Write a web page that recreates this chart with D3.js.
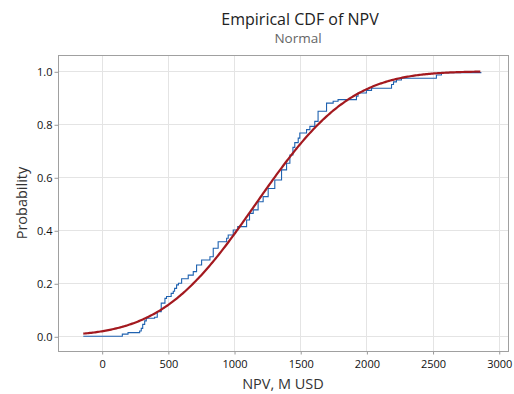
<!DOCTYPE html>
<html>
<head>
<meta charset="utf-8">
<script src="https://cdn.jsdelivr.net/npm/d3@7"></script>
<style>
  body { margin: 0; background: #fff; }
  svg { display: block; font-family: "Open Sans", "Noto Sans", sans-serif; }
</style>
</head>
<body>
<svg width="514" height="394"></svg>
<script>
// empirical CDF steps: x where each step happens, level after it
const npvSteps = [-139, 156, 199, 287, 299, 310, 325, 337, 400, 420, 450, 478, 490, 525, 541, 551,
  566, 580, 604, 654, 692, 717, 755, 818, 843, 880, 944, 956, 994, 1028, 1095, 1117, 1145,
  1182, 1220, 1258, 1308, 1359, 1397, 1422, 1445, 1459, 1485, 1497, 1548, 1573, 1610, 1635,
  1699, 1749, 1786, 1925, 1937, 2000, 2039, 2190, 2205, 2227, 2265, 2529, 2567, 2869];
const probSteps = [0, 0.008, 0.014, 0.020, 0.030, 0.045, 0.058, 0.068, 0.072, 0.093, 0.125, 0.143,
  0.150, 0.162, 0.170, 0.181, 0.194, 0.200, 0.217, 0.231, 0.244, 0.269, 0.288, 0.300, 0.332,
  0.357, 0.370, 0.382, 0.401, 0.414, 0.439, 0.464, 0.477, 0.508, 0.527, 0.558, 0.590, 0.628,
  0.653, 0.684, 0.713, 0.731, 0.748, 0.767, 0.780, 0.792, 0.811, 0.849, 0.880, 0.887, 0.893,
  0.906, 0.918, 0.928, 0.936, 0.950, 0.960, 0.967, 0.974, 0.986, 0.995, 0.995];

// fitted normal
const fitMean = 1165;
const fitSd = 560;

const xTicks = [0, 500, 1000, 1500, 2000, 2500, 3000];
const yTicks = [0, 0.2, 0.4, 0.6, 0.8, 1.0];

const svg = d3.select("svg");
const plotL = 58, plotR = 508, plotT = 55, plotB = 351;

const x = d3.scaleLinear().domain([-330, 3070]).range([plotL, plotR]);
const y = d3.scaleLinear().domain([-0.0555, 1.0615]).range([plotB, plotT]);

// grid
svg.append("g")
    .selectAll("line")
    .data(xTicks)
    .join("line")
    .attr("x1", d => Math.round(x(d)) + 0.5)
    .attr("x2", d => Math.round(x(d)) + 0.5)
    .attr("y1", plotT)
    .attr("y2", plotB)
    .attr("stroke", "#e4e4e4");

svg.append("g")
    .selectAll("line")
    .data(yTicks)
    .join("line")
    .attr("x1", plotL)
    .attr("x2", plotR)
    .attr("y1", d => Math.round(y(d)) + 0.5)
    .attr("y2", d => Math.round(y(d)) + 0.5)
    .attr("stroke", "#e4e4e4");

// axes
const xAxis = svg.append("g")
    .attr("transform", `translate(0.5,${plotB + 0.5})`)
    .call(d3.axisBottom(x).tickValues(xTicks).tickSize(3).tickPadding(6).tickFormat(d3.format("d")));

const yAxis = svg.append("g")
    .attr("transform", `translate(${plotL + 0.5},0.5)`)
    .call(d3.axisLeft(y).tickValues(yTicks).tickSize(4).tickPadding(2).tickFormat(d3.format(".1f")));

[xAxis, yAxis].forEach(g => {
    g.select(".domain").remove();
    g.selectAll(".tick line").attr("stroke", "#999");
    g.selectAll(".tick text")
        .attr("fill", "#111")
        .style("font-size", "11px")
        .style("font-family", "\"Open Sans\", sans-serif");
});

// data
const ecdf = npvSteps.map((v, i) => [v, probSteps[i]]);
svg.append("path")
    .datum(ecdf)
    .attr("fill", "none")
    .attr("stroke", "#1f62b0")
    .attr("stroke-width", 1.1)
    .attr("d", d3.line().x(d => x(d[0])).y(d => y(d[1])).curve(d3.curveStepAfter));

const normalCdf = z => {
    // Abramowitz-Stegun erf approximation
    const t = 1 / (1 + 0.3275911 * Math.abs(z) / Math.SQRT2);
    const e = 1 - (((((1.061405429 * t - 1.453152027) * t) + 1.421413741) * t - 0.284496736) * t + 0.254829592) * t * Math.exp(-z * z / 2);
    return z >= 0 ? (1 + e) / 2 : (1 - e) / 2;
};
const fitPts = d3.range(npvSteps[0], npvSteps[npvSteps.length - 1] + 1, 10)
    .map(v => [v, normalCdf((v - fitMean) / fitSd)]);
svg.append("path")
    .datum(fitPts)
    .attr("fill", "none")
    .attr("stroke", "#a3191f")
    .attr("stroke-width", 2.2)
    .attr("d", d3.line().x(d => x(d[0])).y(d => y(d[1])));

// frame
svg.append("rect")
    .attr("x", plotL + 0.5)
    .attr("y", plotT + 0.5)
    .attr("width", plotR - plotL)
    .attr("height", plotB - plotT)
    .attr("fill", "none")
    .attr("stroke", "#a0a0a0");

// titles
svg.append("text")
    .attr("x", 300).attr("y", 25)
    .attr("text-anchor", "middle")
    .attr("fill", "#222")
    .style("font-size", "16px")
    .text("Empirical CDF of NPV");
svg.append("text")
    .attr("x", 298).attr("y", 43)
    .attr("text-anchor", "middle")
    .attr("fill", "#666")
    .style("font-size", "13.5px")
    .text("Normal");

svg.append("text")
    .attr("transform", `translate(27,${(plotT + plotB) / 2}) rotate(-90)`)
    .attr("text-anchor", "middle")
    .attr("fill", "#333")
    .style("font-size", "14.5px")
    .text("Probability");
svg.append("text")
    .attr("x", (plotL + plotR) / 2).attr("y", 389)
    .attr("text-anchor", "middle")
    .attr("fill", "#333")
    .style("font-size", "14.5px")
    .text("NPV, M USD");
</script>
</body>
</html>
